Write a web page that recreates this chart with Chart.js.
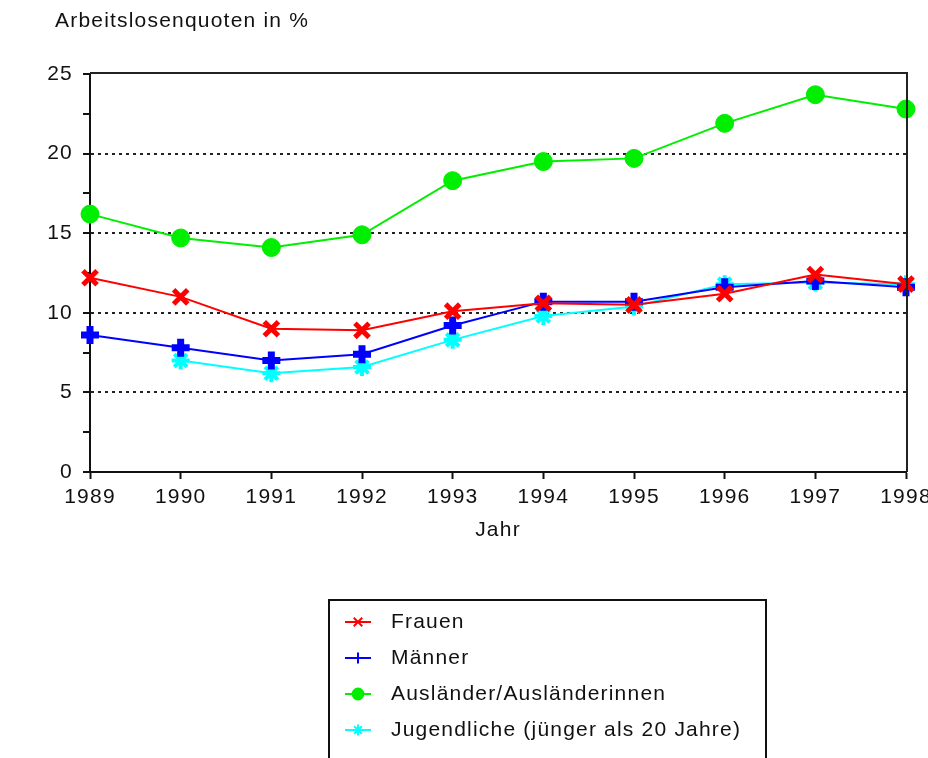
<!DOCTYPE html>
<html>
<head>
<meta charset="utf-8">
<script src="https://cdn.jsdelivr.net/npm/chart.js@4.4.1/dist/chart.umd.min.js"></script>
<style>
    html, body { margin: 0; padding: 0; background: #fff; }
    #wrap { width: 928px; height: 758px; position: relative; }
</style>
</head>
<body>
<div id="wrap"><canvas id="chart"></canvas></div>
<script>
const years = ['1989', '1990', '1991', '1992', '1993', '1994', '1995', '1996', '1997', '1998'];
const frauen = [12.2, 11.0, 9.0, 8.9, 10.1, 10.6, 10.5, 11.2, 12.4, 11.8];
const maenner = [8.6, 7.8, 7.0, 7.4, 9.2, 10.7, 10.7, 11.6, 12.0, 11.6];
const auslaender = [16.2, 14.7, 14.1, 14.9, 18.3, 19.5, 19.7, 21.9, 23.7, 22.8];
const jugendliche = [null, 7.0, 6.2, 6.6, 8.3, 9.8, 10.4, 11.8, 11.9, 11.8];
const yTicks = [0, 5, 10, 15, 20, 25];

const fontFamily = '"Liberation Sans", Arial, sans-serif';
const textFont = { family: fontFamily, size: 21 };
const letterSpacing = '1.2px';

// dataset styles
const series = [
    { label: 'Frauen', data: frauen, color: '#ff0000', pointStyle: 'crossRot', radius: 10, width: 5 },
    { label: 'Männer', data: maenner, color: '#0000ff', pointStyle: 'cross', radius: 9, width: 7 },
    { label: 'Ausländer/Ausländerinnen', data: auslaender, color: '#00ee00', pointStyle: 'circle', radius: 9, width: 1 },
    { label: 'Jugendliche (jünger als 20 Jahre)', data: jugendliche, color: '#00ffff', pointStyle: 'star', radius: 9, width: 4 }
];

// Title text, frame and legend box
const extrasPlugin = {
    id: 'extras',
    beforeDraw(chart) {
        chart.ctx.letterSpacing = letterSpacing;
    },
    afterDraw(chart) {
        const { ctx, chartArea } = chart;
        ctx.save();
        ctx.letterSpacing = letterSpacing;

        // frame on top/right
        ctx.strokeStyle = '#222';
        ctx.lineWidth = 2;
        ctx.beginPath();
        ctx.moveTo(chartArea.left, chartArea.top - 1);
        ctx.lineTo(chartArea.right + 1, chartArea.top - 1);
        ctx.lineTo(chartArea.right + 1, chartArea.bottom);
        ctx.stroke();

        // axis title
        ctx.fillStyle = '#111';
        ctx.font = `${textFont.size}px ${fontFamily}`;
        ctx.textBaseline = 'middle';
        ctx.textAlign = 'left';
        ctx.fillText('Arbeitslosenquoten in %', 55, 21);

        // legend
        const boxLeft = 329, boxRight = 766, boxTop = 600;
        ctx.strokeStyle = '#111';
        ctx.lineWidth = 2;
        ctx.beginPath();
        ctx.moveTo(boxLeft, chart.height + 5);
        ctx.lineTo(boxLeft, boxTop);
        ctx.lineTo(boxRight, boxTop);
        ctx.lineTo(boxRight, chart.height + 5);
        ctx.stroke();

        series.forEach((s, i) => {
            const y = 622 + i * 36;
            ctx.strokeStyle = s.color;
            ctx.fillStyle = s.color;
            ctx.lineWidth = 2;
            ctx.beginPath();
            ctx.moveTo(345, y);
            ctx.lineTo(371, y);
            ctx.stroke();
            Chart.helpers.drawPoint(ctx, {
                pointStyle: s.pointStyle,
                radius: s.radius * 0.6,
                borderWidth: Math.max(2, s.width * 0.6),
                rotation: 0
            }, 358, y);
            ctx.fillStyle = '#111';
            ctx.textAlign = 'left';
            ctx.textBaseline = 'middle';
            ctx.fillText(s.label, 391, y);
        });
        ctx.restore();
    }
};

const ctx = document.getElementById('chart').getContext('2d');
new Chart(ctx, {
    type: 'line',
    data: {
        labels: years,
        datasets: series.map(s => ({
            label: s.label,
            data: s.data,
            borderColor: s.color,
            backgroundColor: s.color,
            pointBackgroundColor: s.color,
            pointBorderColor: s.color,
            pointStyle: s.pointStyle,
            pointRadius: s.radius,
            pointBorderWidth: s.width,
            borderWidth: 2,
            tension: 0,
            spanGaps: false
        }))
    },
    options: {
        responsive: true,
        maintainAspectRatio: false,
        animation: false,
        layout: { padding: { top: 74, right: 22, bottom: 214, left: 0 } },
        plugins: {
            legend: { display: false },
            tooltip: { enabled: false }
        },
        scales: {
            x: {
                offset: false,
                grid: {
                    drawOnChartArea: false,
                    drawTicks: true,
                    tickLength: 7,
                    tickColor: '#111',
                    tickWidth: 2
                },
                border: { color: '#111', width: 2 },
                ticks: { color: '#111', font: textFont, padding: 6, maxRotation: 0, autoSkip: false },
                title: {
                    display: true,
                    text: 'Jahr',
                    color: '#111',
                    font: textFont,
                    padding: { top: 0, bottom: 1 }
                },
                afterFit: (scale) => {
                    scale.height = 72;
                    scale.paddingLeft = 0;
                    scale.paddingRight = 0;
                }
            },
            y: {
                min: yTicks[0],
                max: yTicks[yTicks.length - 1],
                ticks: {
                    stepSize: 2.5,
                    color: '#111',
                    font: textFont,
                    padding: 10,
                    callback: (v) => (yTicks.includes(v) ? v : '')
                },
                grid: {
                    color: (c) => {
                        const v = c.tick && c.tick.value;
                        return (v > 0 && v < 25 && v % 5 === 0) ? '#222' : 'rgba(0,0,0,0)';
                    },
                    lineWidth: 2,
                    tickColor: '#111',
                    tickWidth: 2,
                    tickLength: 7
                },
                border: { color: '#111', width: 2, dash: [3, 4] },
                afterFit: (scale) => { scale.width = 90; }
            }
        }
    },
    plugins: [extrasPlugin]
});
</script>
</body>
</html>
